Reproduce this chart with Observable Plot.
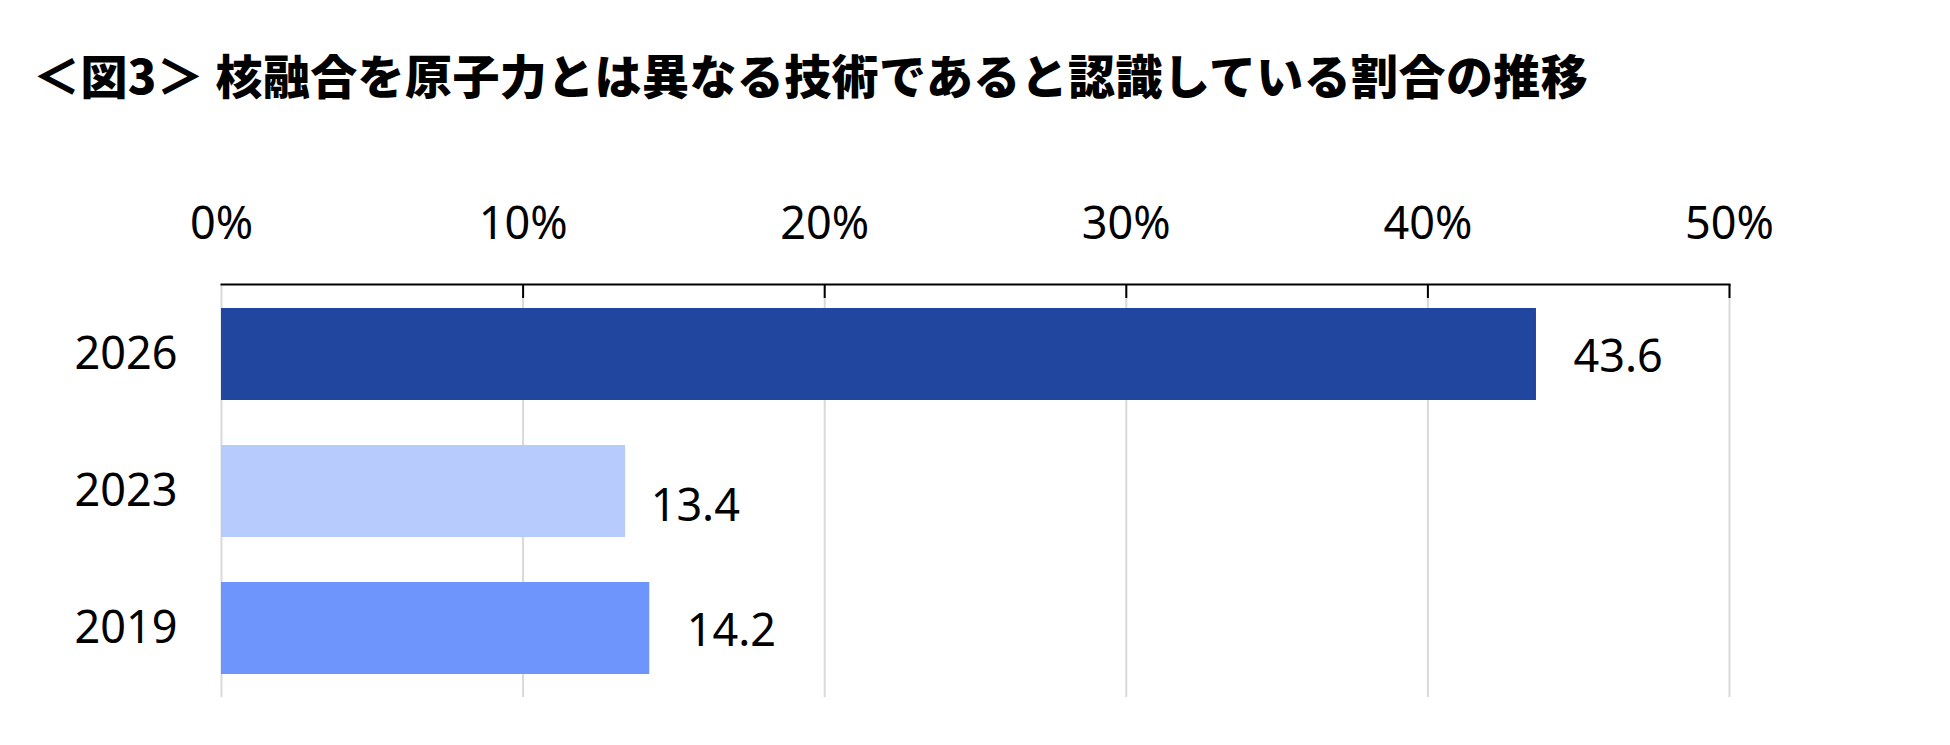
<!DOCTYPE html>
<html>
<head>
<meta charset="utf-8">
<script src="https://cdn.jsdelivr.net/npm/d3@7"></script>
<script src="https://cdn.jsdelivr.net/npm/@observablehq/plot@0.6"></script>
<style>
  html, body { margin: 0; padding: 0; background: #fff; }
  #title {
    position: relative; height: 130px; margin: 0; padding: 0;
    font-family: "Noto Sans CJK JP", "Noto Sans", sans-serif;
    font-weight: 900; font-size: 47px; letter-spacing: 0.4px; color: #000; white-space: nowrap;
  }
  #title span { position: absolute; left: 33px; top: 50px; line-height: 1; }
  #chart svg { display: block; }
</style>
</head>
<body>
<div id="title"><span>＜図3＞ 核融合を原子力とは異なる技術であると認識している割合の推移</span></div>
<div id="chart"></div>
<script>
const years = ["2026", "2023", "2019"];
const values = [43.6, 13.4, 14.2];
const colors = ["#2146a0", "#b8cbfd", "#6e95fc"];
const xTicks = [0, 10, 20, 30, 40, 50];

const data = years.map((y, i) => ({year: y, value: values[i], color: colors[i]}));

const font = "Noto Sans, sans-serif";
const chart = Plot.plot({
  width: 1950,
  height: 615,
  marginTop: 154,
  marginLeft: 221,
  marginRight: 221,
  marginBottom: 48,
  style: {fontFamily: font, fontSize: "45px", color: "#000", background: "#fff"},
  x: {domain: [0, 50], ticks: xTicks},
  y: {domain: years, paddingInner: 0.33, paddingOuter: 0.167},
  marks: [
    Plot.ruleX(xTicks, {stroke: "#d9d9d9", strokeWidth: 2}),
    Plot.barX(data, {x: "value", y: "year", fill: "color"}),
    Plot.frame({anchor: "top", stroke: "#000", strokeWidth: 2}),
    Plot.ruleX(xTicks.slice(1), {stroke: "#000", strokeWidth: 2, insetBottom: 399}),
    Plot.axisX({anchor: "top", ticks: xTicks, tickSize: 0, tickPadding: 46, tickFormat: d => d + "%", fontSize: 45, label: null}),
    Plot.axisY({tickSize: 0, tickPadding: 44, fontSize: 45, label: null}),
    Plot.text(data.filter(d => d.year !== "2023"), {x: "value", y: "year", text: d => d.value.toFixed(1), dx: 37, dy: 3, textAnchor: "start", fontSize: 45, fill: "#000"}),
    Plot.text(data.filter(d => d.year === "2023"), {x: "value", y: "year", text: d => d.value.toFixed(1), dx: 25, dy: 15, textAnchor: "start", fontSize: 45, fill: "#000"})
  ]
});
document.getElementById("chart").appendChild(chart);
</script>
</body>
</html>
